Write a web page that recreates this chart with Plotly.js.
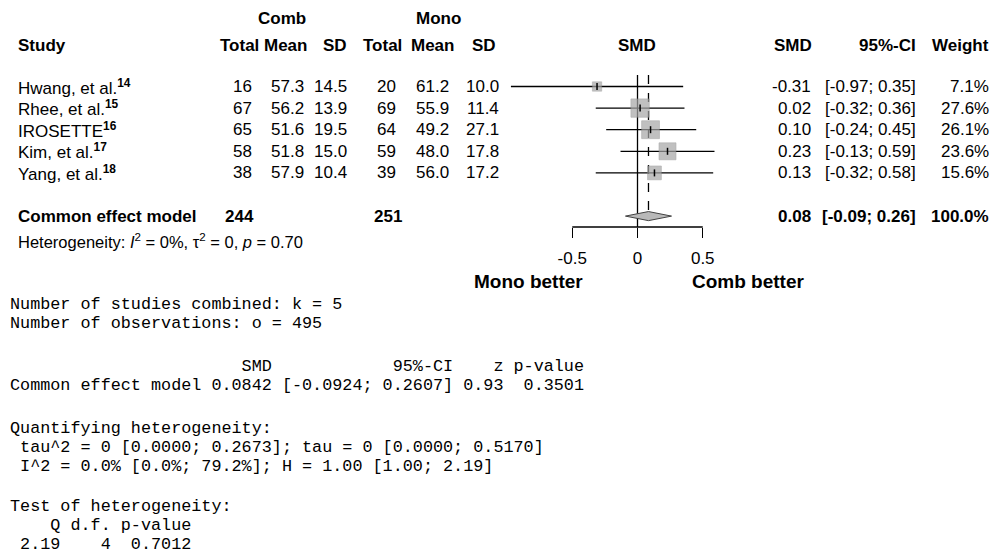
<!DOCTYPE html>
<html><head><meta charset="utf-8">
<script src="https://cdn.plot.ly/plotly-3.0.1.min.js"></script>
<style>html,body{margin:0;padding:0;background:#fff;}#chart{width:993px;height:555px;}</style>
</head><body><div id="chart"></div>
<script>
// ---------------- data ----------------
const studyNames = ["Hwang, et al.", "Rhee, et al.", "IROSETTE", "Kim, et al.", "Yang, et al."];
const studyRefs = ["14", "15", "16", "17", "18"];
const combTotal = [16, 67, 65, 58, 38];
const combMean = [57.3, 56.2, 51.6, 51.8, 57.9];
const combSD = [14.5, 13.9, 19.5, 15.0, 10.4];
const monoTotal = [20, 69, 64, 59, 39];
const monoMean = [61.2, 55.9, 49.2, 48.0, 56.0];
const monoSD = [10.0, 11.4, 27.1, 17.8, 17.2];
const smd = [-0.31, 0.02, 0.10, 0.23, 0.13];
const ciLower = [-0.97, -0.32, -0.24, -0.13, -0.32];
const ciUpper = [0.35, 0.36, 0.45, 0.59, 0.58];
const weightPct = [7.1, 27.6, 26.1, 23.6, 15.6];

const pooledLabel = "Common effect model";
const pooledCombTotal = 244;
const pooledMonoTotal = 251;
const pooledSMD = 0.0842;
const pooledLower = -0.0924;
const pooledUpper = 0.2607;
const pooledWeight = 100.0;
const heterogeneityText = "Heterogeneity: <i>I</i><sup>2</sup> = 0%, \u03c4<sup>2</sup> = 0, <i>p</i> = 0.70";

const groupLabels = ["Comb", "Mono"];
const columnHeaders = ["Study", "Total", "Mean", "SD", "Total", "Mean", "SD", "SMD", "SMD", "95%-CI", "Weight"];
const xTickVals = [-0.5, 0, 0.5];
const xTickText = ["-0.5", "0", "0.5"];
const favourLabels = ["Mono better", "Comb better"];

const outputLines = [
  "Number of studies combined: k = 5",
  "Number of observations: o = 495",
  "                       SMD            95%-CI    z p-value",
  "Common effect model 0.0842 [-0.0924; 0.2607] 0.93  0.3501",
  "Quantifying heterogeneity:",
  " tau^2 = 0 [0.0000; 0.2673]; tau = 0 [0.0000; 0.5170]",
  " I^2 = 0.0% [0.0%; 79.2%]; H = 1.00 [1.00; 2.19]",
  "Test of heterogeneity:",
  "    Q d.f. p-value",
  " 2.19    4  0.7012"
];

// ---------------- geometry ----------------
const W = 993, H = 555;
const ROW0 = 86.5, ROWH = 21.6;         // pixel centre of first row, row spacing
const ZERO_PX = 637.5, UNIT_PX = 130.5; // SMD axis scale
const px = x => x / W;
const py = y => 1 - y / H;
const SANS = "Liberation Sans, Arial, sans-serif";
const MONO = "Liberation Mono, DejaVu Sans Mono, monospace";
const LEFT_FS = 17, RIGHT_FS = 17;
const pooledRow = studyNames.length + 1;
const rows = studyNames.map((_, i) => i);

// ---------------- traces ----------------
const ciX = [], ciY = [];
rows.forEach(i => { ciX.push(ciLower[i], ciUpper[i], null); ciY.push(i, i, null); });

const traces = [
  { type: "scatter", mode: "lines", x: ciX, y: ciY, line: { color: "#000", width: 1.3 }, hoverinfo: "skip" },
  { type: "scatter", mode: "markers", x: smd, y: rows,
    marker: { symbol: "square", size: weightPct.map(w => Math.sqrt(w) * 3.5), color: "#a6a6a6", line: { width: 0.6, color: "#8c8c8c" } } },
  { type: "scatter", mode: "markers", x: smd, y: rows,
    marker: { symbol: "line-ns-open", size: 5, color: "#000", line: { color: "#000", width: 1.5 } } },
  { type: "scatter", mode: "lines", fill: "toself", fillcolor: "#b9b9b9",
    x: [pooledLower, pooledSMD, pooledUpper, pooledSMD, pooledLower],
    y: [pooledRow, pooledRow - 0.21, pooledRow, pooledRow + 0.21, pooledRow],
    line: { color: "#444", width: 1 } }
];

// ---------------- annotations ----------------
const ann = [];
function addP(text, x, y, anchor, size, bold, family) {
  ann.push({ text: bold ? "<b>" + text + "</b>" : text, x: px(x), y: py(y), xref: "paper", yref: "paper",
    xanchor: anchor, yanchor: "middle", showarrow: false, borderpad: 0,
    font: { family: family || SANS, size: size, color: "#000" } });
}
function addR(text, x, r, anchor, size, bold) {
  ann.push({ text: bold ? "<b>" + text + "</b>" : text, x: px(x), y: r, xref: "paper", yref: "y",
    xanchor: anchor, yanchor: "middle", showarrow: false, borderpad: 0,
    font: { family: SANS, size: size, color: "#000" } });
}
// group headers
addP(groupLabels[0], 282, 18, "center", LEFT_FS, true);
addP(groupLabels[1], 438, 18, "center", LEFT_FS, true);
// column headers
const hdrX = [17, 260, 308, 348, 403, 455, 497, 637, 813, 917, 990];
const hdrA = ["left", "right", "right", "right", "right", "right", "right", "center", "right", "right", "right"];
columnHeaders.forEach((h, k) => addP(h, hdrX[k], 45, hdrA[k], k < 7 ? LEFT_FS : RIGHT_FS, true));
// study rows
rows.forEach(i => {
  addR(studyNames[i] + "<sup><b>" + studyRefs[i] + "</b></sup>", 17, i, "left", LEFT_FS, false);
  addR(String(combTotal[i]), 253, i, "right", LEFT_FS);
  addR(combMean[i].toFixed(1), 305, i, "right", LEFT_FS);
  addR(combSD[i].toFixed(1), 348, i, "right", LEFT_FS);
  addR(String(monoTotal[i]), 397, i, "right", LEFT_FS);
  addR(monoMean[i].toFixed(1), 450, i, "right", LEFT_FS);
  addR(monoSD[i].toFixed(1), 500, i, "right", LEFT_FS);
  addR(smd[i].toFixed(2), 812, i, "right", RIGHT_FS);
  addR("[" + ciLower[i].toFixed(2) + "; " + ciUpper[i].toFixed(2) + "]", 917, i, "right", RIGHT_FS);
  addR(weightPct[i].toFixed(1) + "%", 990, i, "right", RIGHT_FS);
});
// pooled row
addR(pooledLabel, 17, pooledRow, "left", LEFT_FS, true);
addR(String(pooledCombTotal), 255, pooledRow, "right", LEFT_FS, true);
addR(String(pooledMonoTotal), 403, pooledRow, "right", LEFT_FS, true);
addR(pooledSMD.toFixed(2), 812, pooledRow, "right", RIGHT_FS, true);
addR("[" + pooledLower.toFixed(2) + "; " + pooledUpper.toFixed(2) + "]", 917, pooledRow, "right", RIGHT_FS, true);
addR(pooledWeight.toFixed(1) + "%", 990, pooledRow, "right", RIGHT_FS, true);
addP(heterogeneityText, 17, 241, "left", 16.5, false);
// favour labels
addP(favourLabels[0], 528, 281, "center", 19, true);
addP(favourLabels[1], 748, 281, "center", 19, true);
// console output
const lineY = [304, 323, 366, 385, 428, 447, 466, 506, 525, 544];
outputLines.forEach((t, k) => addP(t.replace(/ /g, "\u00a0"), 9, lineY[k], "left", 16.8, false, MONO));

// ---------------- shapes ----------------
const shapes = [
  { type: "line", xref: "x", yref: "paper", x0: 0, x1: 0, y0: py(75), y1: py(227), layer: "below", line: { color: "#000", width: 1.3 } },
  { type: "line", xref: "x", yref: "paper", x0: pooledSMD, x1: pooledSMD, y0: py(75), y1: py(211), layer: "below", line: { color: "#000", width: 1.3, dash: "dash" } },
  { type: "line", xref: "x", yref: "paper", x0: xTickVals[0], x1: xTickVals[xTickVals.length - 1], y0: py(227), y1: py(227), layer: "below", line: { color: "#000", width: 1.3 } }
];

const layout = {
  width: W, height: H, margin: { l: 0, r: 0, t: 0, b: 0 },
  paper_bgcolor: "#fff", plot_bgcolor: "rgba(0,0,0,0)", showlegend: false,
  xaxis: { domain: [px(480), px(790)], range: [(480 - ZERO_PX) / UNIT_PX, (790 - ZERO_PX) / UNIT_PX],
    anchor: "free", position: py(227), side: "bottom",
    showline: false, showgrid: false, zeroline: false,
    ticks: "outside", ticklen: 10, tickwidth: 1.3, tickcolor: "#000", ticklabelstandoff: 6,
    tickvals: xTickVals, ticktext: xTickText, tickfont: { family: SANS, size: 17, color: "#000" } },
  yaxis: { domain: [0, 1], range: [(H - ROW0) / ROWH, -ROW0 / ROWH], visible: false },
  annotations: ann, shapes: shapes, hovermode: false
};
Plotly.newPlot("chart", traces, layout, { staticPlot: true, displayModeBar: false });
</script></body></html>
